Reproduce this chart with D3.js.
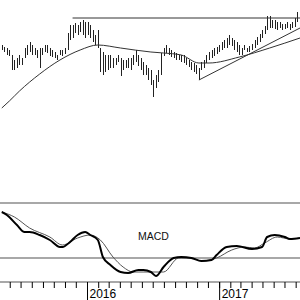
<!DOCTYPE html>
<html>
<head>
<meta charset="utf-8">
<script src="https://cdn.jsdelivr.net/npm/d3@7"></script>
<style>
  body { margin: 0; background: #fff; }
  svg { display: block; }
</style>
</head>
<body>
<svg></svg>
<script>
// Weekly bars, first week ending 2015-05-10
const firstWeek = new Date(2015, 4, 10);

const highs = [
  105, 103, 102, 100, 95, 90, 92, 95, 92, 102,
  105, 108, 105, 102, 100, 102, 102, 105, 105, 102,
  100, 98, 95, 100, 100, 102, 117, 125, 125, 127,
  125, 128, 130, 128, 128, 125, 120, 115, 120, 102,
  98, 95, 95, 95, 92, 92, 95, 92, 90, 90,
  92, 92, 95, 100, 95, 92, 88, 85, 82, 80,
  70, 75, 80, 97, 102, 105, 102, 100, 98, 97,
  95, 95, 95, 92, 90, 88, 87, 85, 82, 88,
  90, 95, 98, 100, 102, 103, 105, 108, 110, 112,
  115, 112, 110, 108, 105, 102, 105, 102, 104, 106,
  110, 113, 116, 120, 124, 134, 134, 130, 130, 128,
  128, 126, 126, 128, 126, 128, 132, 138, 132
];
const lows = [
  100, 98, 95, 94, 80, 80, 82, 85, 85, 92,
  95, 98, 95, 95, 92, 82, 95, 98, 97, 94,
  93, 92, 90, 95, 94, 96, 100, 110, 112, 117,
  115, 118, 115, 112, 115, 112, 108, 105, 102, 78,
  75, 78, 80, 82, 82, 85, 88, 74, 80, 82,
  82, 80, 85, 88, 84, 80, 75, 75, 70, 65,
  53, 62, 68, 75, 94, 97, 95, 93, 92, 90,
  90, 88, 87, 85, 83, 80, 78, 76, 70, 80,
  82, 87, 90, 92, 94, 96, 98, 100, 102, 102,
  105, 104, 100, 98, 95, 95, 100, 98, 98, 100,
  102, 105, 108, 112, 116, 120, 122, 122, 121, 120,
  122, 120, 121, 122, 120, 122, 123, 128, 125
];

// 40-week moving average (sampled weeks)
const maWeeks = [0, 3, 7, 15, 23, 31, 38, 47, 59, 64, 71, 78, 82, 94, 106, 118];
const maValues = [42, 49, 59, 76, 90, 100, 105, 102, 98, 97, 95, 87, 87, 93, 102, 112];

// Trendlines: [week, price] pairs
const resistance = [[28, 132], [119, 132]];
const support = [[78, 70], [118, 122]];

// MACD and signal (sampled weeks)
const macdWeeks = [0, 2, 6, 9, 11, 15, 19, 23, 24, 27, 30, 33, 35, 38, 40, 43, 47, 50, 54, 56,
  59, 61, 64, 68, 71, 75, 79, 83, 85, 89, 93, 99, 103, 105, 108, 112, 114, 118];
const macdValues = [4.6, 4.3, 3.3, 2.6, 2.6, 2.3, 1.8, 1.1, 1.1, 1.6, 2.3, 2.6, 2.3, 1.8, 0.1, -0.7, -1.4, -1.5, -1.2, -1.2,
  -1.4, -1.8, -0.9, 0.0, 0.1, 0.0, -0.3, -0.2, 0.3, 1.1, 1.2, 0.9, 1.1, 2.1, 2.3, 2.1, 1.9, 2.0];
const signalWeeks = [0, 5, 11, 19, 24, 30, 35, 39, 44, 48, 52, 59, 64, 70, 75, 79, 85, 91, 96, 100, 104, 109, 114, 118];
const signalValues = [4.6, 4.1, 3.0, 2.1, 1.3, 2.0, 2.3, 1.8, 0.1, -0.9, -1.4, -1.4, -1.4, 0.0, 0.0, -0.3, 0.0, 0.8, 1.1, 1.0, 1.5, 2.1, 1.9, 2.0];

const macdLabel = "MACD";

const width = 300, height = 300;
const weekDate = (w) => d3.timeDay.offset(firstWeek, w * 7);

const svg = d3.select("svg").attr("width", width).attr("height", height);

const x = d3.scaleTime()
  .domain([new Date(2015, 4, 5), new Date(2017, 7, 13)])
  .range([0, width]);
const y = d3.scaleLinear().domain([30, 150]).range([120, 0]);
const ym = d3.scaleLinear().domain([-2.4, 5.5]).range([282, 203]);

// Price bars
svg.append("g")
  .selectAll("line")
  .data(highs)
  .join("line")
  .attr("x1", (d, i) => Math.round(x(weekDate(i))) + 0.5)
  .attr("x2", (d, i) => Math.round(x(weekDate(i))) + 0.5)
  .attr("y1", (d) => y(d))
  .attr("y2", (d, i) => y(lows[i]))
  .attr("stroke", "#222")
  .attr("stroke-width", 1);

// Moving average
const maLine = d3.line()
  .x((d) => x(weekDate(d[0])))
  .y((d) => y(d[1]))
  .curve(d3.curveMonotoneX);
svg.append("path")
  .datum(maWeeks.map((w, i) => [w, maValues[i]]))
  .attr("d", maLine)
  .attr("fill", "none")
  .attr("stroke", "#333")
  .attr("stroke-width", 1);

// Trendlines
const straight = d3.line()
  .x((d) => x(weekDate(d[0])))
  .y((d) => y(d[1]));
[resistance, support].forEach((t) => {
  svg.append("path")
    .datum(t)
    .attr("d", straight)
    .attr("fill", "none")
    .attr("stroke", "#333")
    .attr("stroke-width", 1);
});

// MACD panel frame
[5.5, 0, -2.4].forEach((v) => {
  svg.append("line")
    .attr("x1", 0).attr("x2", width)
    .attr("y1", ym(v)).attr("y2", ym(v))
    .attr("stroke", "#a8a8a8")
    .attr("stroke-width", 2);
});

const macdLine = d3.line()
  .x((d) => x(weekDate(d[0])))
  .y((d) => ym(d[1]))
  .curve(d3.curveMonotoneX);

svg.append("path")
  .datum(signalWeeks.map((w, i) => [w, signalValues[i]]))
  .attr("d", macdLine)
  .attr("fill", "none")
  .attr("stroke", "#555")
  .attr("stroke-width", 1);

svg.append("path")
  .datum(macdWeeks.map((w, i) => [w, macdValues[i]]))
  .attr("d", macdLine)
  .attr("fill", "none")
  .attr("stroke", "#000")
  .attr("stroke-width", 2);

svg.append("text")
  .attr("x", 138)
  .attr("y", 240)
  .attr("font-family", "Liberation Sans, Arial, sans-serif")
  .attr("font-size", 10.5)
  .attr("fill", "#111")
  .text(macdLabel);

// Time axis: month ticks and year ticks
const axisG = svg.append("g").attr("transform", "translate(0,282)");
axisG.append("g")
  .call(d3.axisBottom(x).ticks(d3.timeMonth.every(1)).tickSize(6).tickFormat(""))
  .call((g) => g.select(".domain").remove());
axisG.append("g")
  .call(d3.axisBottom(x).ticks(d3.timeYear.every(1)).tickSize(18).tickFormat(d3.timeFormat("%Y")))
  .call((g) => g.select(".domain").remove())
  .call((g) => g.selectAll("text")
    .attr("text-anchor", "start")
    .attr("x", 2)
    .attr("y", 16)
    .attr("dy", 0)
    .attr("fill", "#000")
    .attr("font-family", "Liberation Sans, Arial, sans-serif")
    .attr("font-size", 12));
axisG.selectAll(".tick line").attr("stroke", "#000");
</script>
</body>
</html>
